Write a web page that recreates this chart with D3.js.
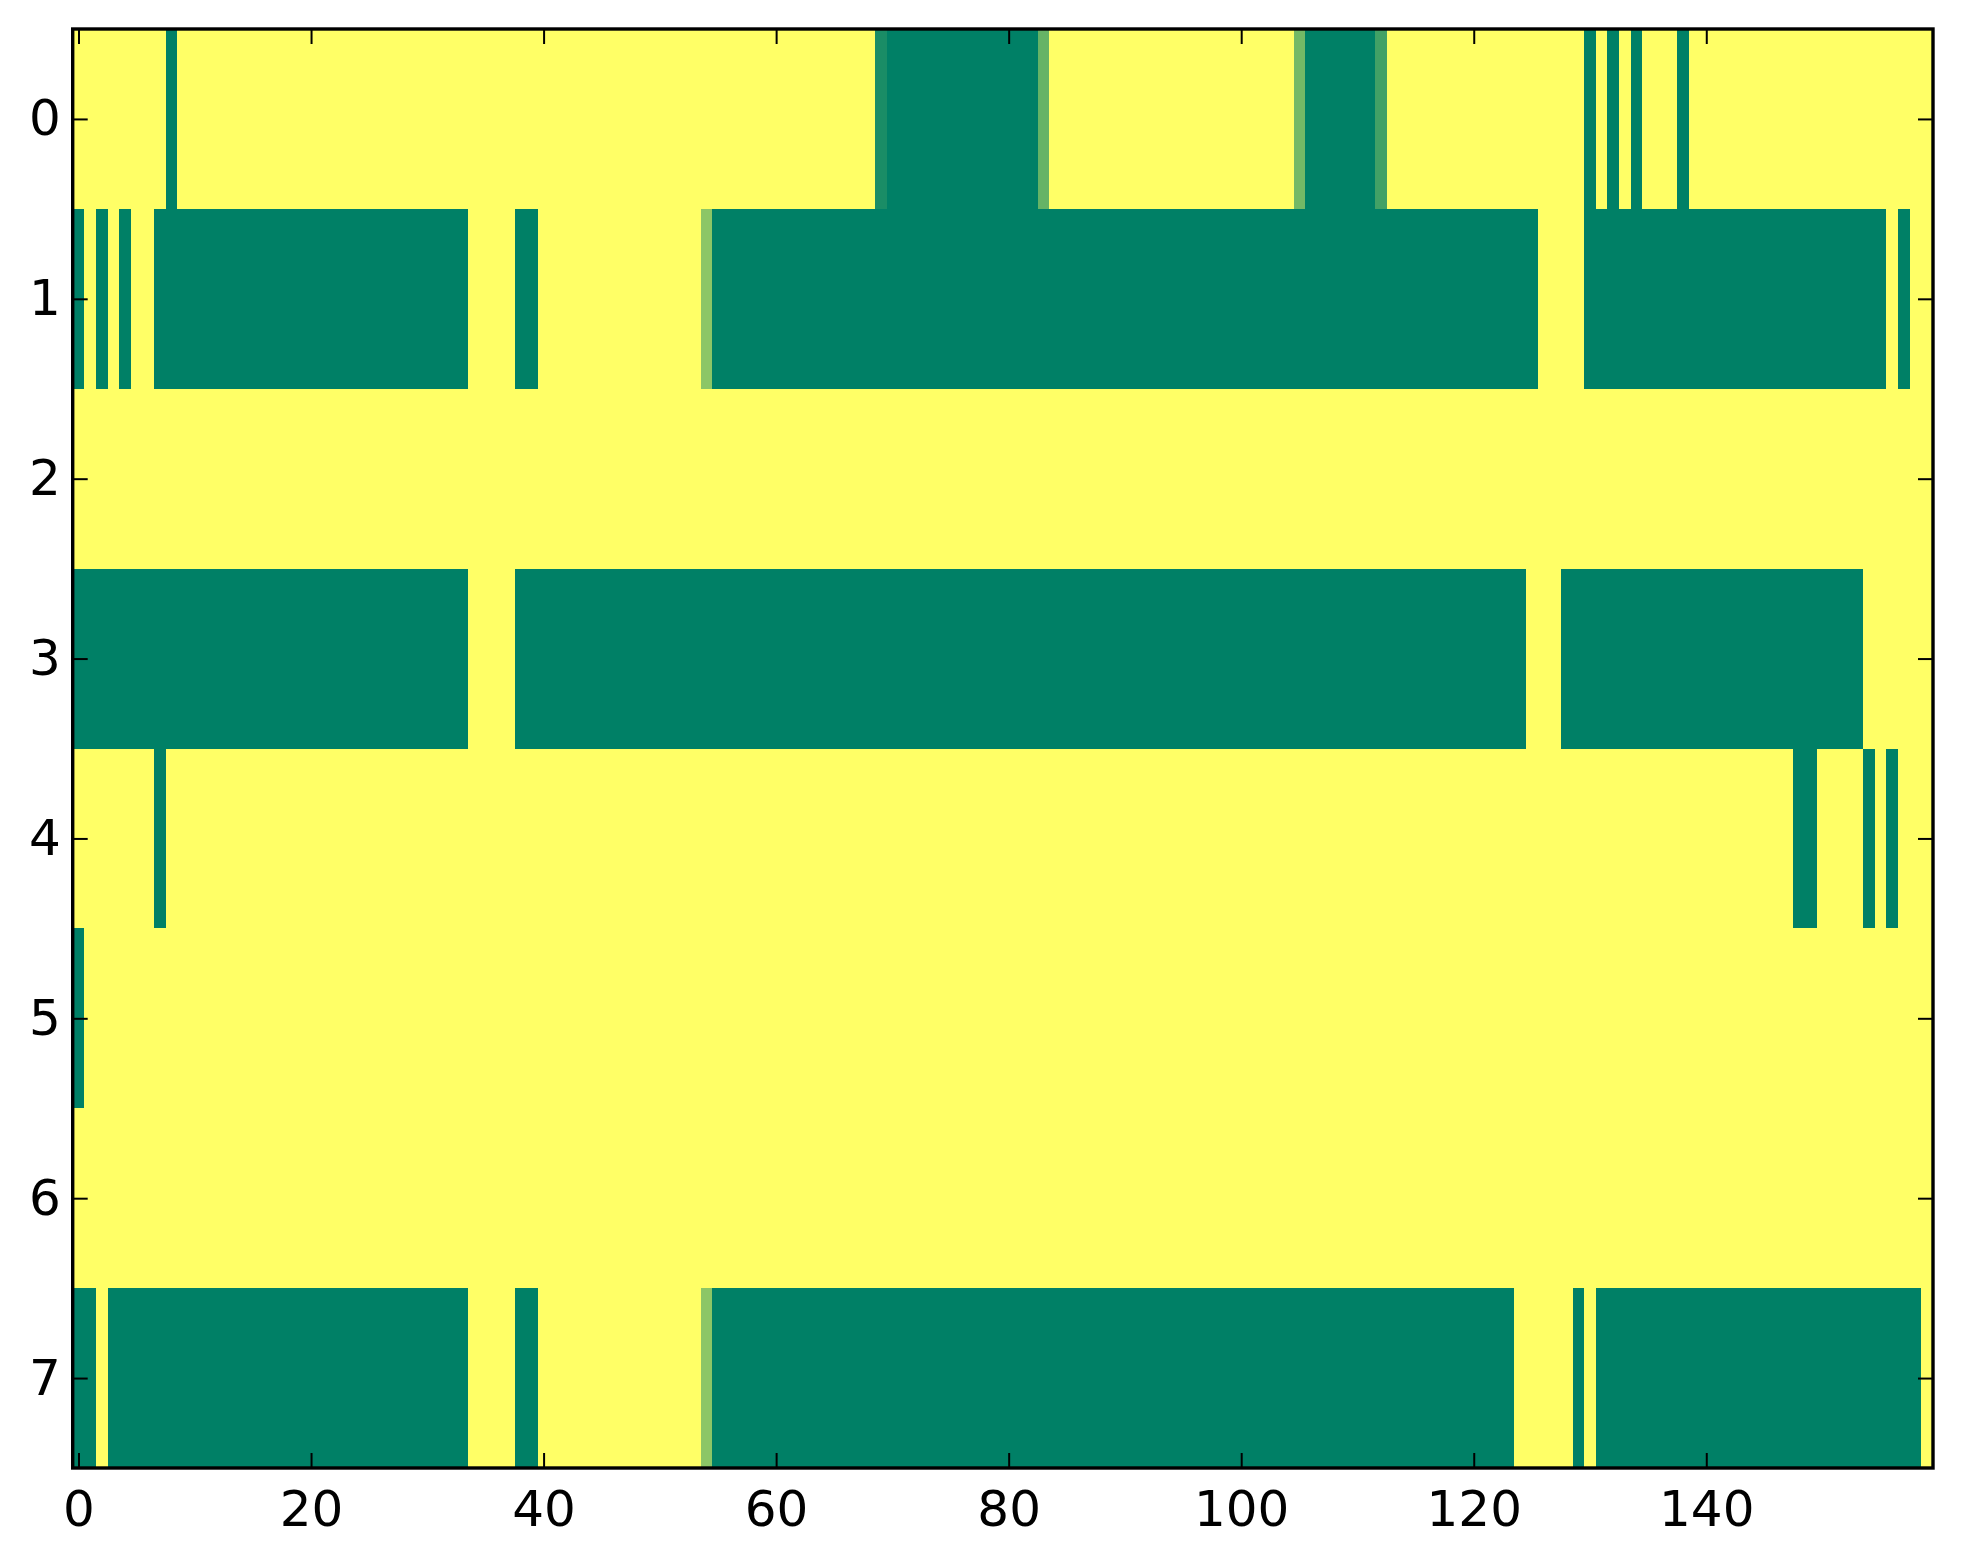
<!DOCTYPE html>
<html>
<head>
<meta charset="utf-8">
<script src="https://cdn.jsdelivr.net/npm/d3@7/dist/d3.min.js"></script>
<style>
  html, body { margin: 0; padding: 0; background: #ffffff; }
  svg { display: block; }
  text { font-family: "DejaVu Sans", sans-serif; }
</style>
</head>
<body>
<script>
// ---- data (1 = yellow, 0 = dark green) ----
const rowLabels = [0, 1, 2, 3, 4, 5, 6, 7];
const xTickValues = [0, 20, 40, 60, 80, 100, 120, 140];

const row0 = [
  1,1,1,1,1,1,1,1,0,1,1,1,1,1,1,1,1,1,1,1,
  1,1,1,1,1,1,1,1,1,1,1,1,1,1,1,1,1,1,1,1,
  1,1,1,1,1,1,1,1,1,1,1,1,1,1,1,1,1,1,1,1,
  1,1,1,1,1,1,1,1,1,0.1,0,0,0,0,0,0,0,0,0,0,
  0,0,0,0.4,1,1,1,1,1,1,1,1,1,1,1,1,1,1,1,1,
  1,1,1,1,1,0.45,0,0,0,0,0,0,0.26,1,1,1,1,1,1,1,
  1,1,1,1,1,1,1,1,1,1,0,1,0,1,0,1,1,1,0,1,
  1,1,1,1,1,1,1,1,1,1,1,1,1,1,1,1,1,1,1,1
];
const row1 = [
  0,1,0,1,0,1,1,0,0,0,0,0,0,0,0,0,0,0,0,0,
  0,0,0,0,0,0,0,0,0,0,0,0,0,0,1,1,1,1,0,0,
  1,1,1,1,1,1,1,1,1,1,1,1,1,1,0.55,0,0,0,0,0,
  0,0,0,0,0,0,0,0,0,0,0,0,0,0,0,0,0,0,0,0,
  0,0,0,0,0,0,0,0,0,0,0,0,0,0,0,0,0,0,0,0,
  0,0,0,0,0,0,0,0,0,0,0,0,0,0,0,0,0,0,0,0,
  0,0,0,0,0,0,1,1,1,1,0,0,0,0,0,0,0,0,0,0,
  0,0,0,0,0,0,0,0,0,0,0,0,0,0,0,0,1,0,1,1
];
const row2 = [
  1,1,1,1,1,1,1,1,1,1,1,1,1,1,1,1,1,1,1,1,
  1,1,1,1,1,1,1,1,1,1,1,1,1,1,1,1,1,1,1,1,
  1,1,1,1,1,1,1,1,1,1,1,1,1,1,1,1,1,1,1,1,
  1,1,1,1,1,1,1,1,1,1,1,1,1,1,1,1,1,1,1,1,
  1,1,1,1,1,1,1,1,1,1,1,1,1,1,1,1,1,1,1,1,
  1,1,1,1,1,1,1,1,1,1,1,1,1,1,1,1,1,1,1,1,
  1,1,1,1,1,1,1,1,1,1,1,1,1,1,1,1,1,1,1,1,
  1,1,1,1,1,1,1,1,1,1,1,1,1,1,1,1,1,1,1,1
];
const row3 = [
  0,0,0,0,0,0,0,0,0,0,0,0,0,0,0,0,0,0,0,0,
  0,0,0,0,0,0,0,0,0,0,0,0,0,0,1,1,1,1,0,0,
  0,0,0,0,0,0,0,0,0,0,0,0,0,0,0,0,0,0,0,0,
  0,0,0,0,0,0,0,0,0,0,0,0,0,0,0,0,0,0,0,0,
  0,0,0,0,0,0,0,0,0,0,0,0,0,0,0,0,0,0,0,0,
  0,0,0,0,0,0,0,0,0,0,0,0,0,0,0,0,0,0,0,0,
  0,0,0,0,0,1,1,1,0,0,0,0,0,0,0,0,0,0,0,0,
  0,0,0,0,0,0,0,0,0,0,0,0,0,0,1,1,1,1,1,1
];
const row4 = [
  1,1,1,1,1,1,1,0,1,1,1,1,1,1,1,1,1,1,1,1,
  1,1,1,1,1,1,1,1,1,1,1,1,1,1,1,1,1,1,1,1,
  1,1,1,1,1,1,1,1,1,1,1,1,1,1,1,1,1,1,1,1,
  1,1,1,1,1,1,1,1,1,1,1,1,1,1,1,1,1,1,1,1,
  1,1,1,1,1,1,1,1,1,1,1,1,1,1,1,1,1,1,1,1,
  1,1,1,1,1,1,1,1,1,1,1,1,1,1,1,1,1,1,1,1,
  1,1,1,1,1,1,1,1,1,1,1,1,1,1,1,1,1,1,1,1,
  1,1,1,1,1,1,1,1,0,0,1,1,1,1,0,1,0,1,1,1
];
const row5 = [
  0,1,1,1,1,1,1,1,1,1,1,1,1,1,1,1,1,1,1,1,
  1,1,1,1,1,1,1,1,1,1,1,1,1,1,1,1,1,1,1,1,
  1,1,1,1,1,1,1,1,1,1,1,1,1,1,1,1,1,1,1,1,
  1,1,1,1,1,1,1,1,1,1,1,1,1,1,1,1,1,1,1,1,
  1,1,1,1,1,1,1,1,1,1,1,1,1,1,1,1,1,1,1,1,
  1,1,1,1,1,1,1,1,1,1,1,1,1,1,1,1,1,1,1,1,
  1,1,1,1,1,1,1,1,1,1,1,1,1,1,1,1,1,1,1,1,
  1,1,1,1,1,1,1,1,1,1,1,1,1,1,1,1,1,1,1,1
];
const row6 = [
  1,1,1,1,1,1,1,1,1,1,1,1,1,1,1,1,1,1,1,1,
  1,1,1,1,1,1,1,1,1,1,1,1,1,1,1,1,1,1,1,1,
  1,1,1,1,1,1,1,1,1,1,1,1,1,1,1,1,1,1,1,1,
  1,1,1,1,1,1,1,1,1,1,1,1,1,1,1,1,1,1,1,1,
  1,1,1,1,1,1,1,1,1,1,1,1,1,1,1,1,1,1,1,1,
  1,1,1,1,1,1,1,1,1,1,1,1,1,1,1,1,1,1,1,1,
  1,1,1,1,1,1,1,1,1,1,1,1,1,1,1,1,1,1,1,1,
  1,1,1,1,1,1,1,1,1,1,1,1,1,1,1,1,1,1,1,1
];
const row7 = [
  0,0,1,0,0,0,0,0,0,0,0,0,0,0,0,0,0,0,0,0,
  0,0,0,0,0,0,0,0,0,0,0,0,0,0,1,1,1,1,0,0,
  1,1,1,1,1,1,1,1,1,1,1,1,1,1,0.55,0,0,0,0,0,
  0,0,0,0,0,0,0,0,0,0,0,0,0,0,0,0,0,0,0,0,
  0,0,0,0,0,0,0,0,0,0,0,0,0,0,0,0,0,0,0,0,
  0,0,0,0,0,0,0,0,0,0,0,0,0,0,0,0,0,0,0,0,
  0,0,0,0,1,1,1,1,1,0,1,0,0,0,0,0,0,0,0,0,
  0,0,0,0,0,0,0,0,0,0,0,0,0,0,0,0,0,0,0,1
];
const rows = [row0, row1, row2, row3, row4, row5, row6, row7];

// ---- layout ----
const W = 1963, H = 1564;
const plotLeft = 72.7, plotRight = 1933, plotTop = 29, plotBottom = 1468;
const nCols = row0.length;

const svg = d3.select("body").append("svg")
  .attr("width", W).attr("height", H)
  .attr("viewBox", `0 0 ${W} ${H}`);

svg.append("rect").attr("width", W).attr("height", H).attr("fill", "#ffffff");

const x = d3.scaleLinear().domain([-0.5, nCols - 0.5]).range([plotLeft, plotRight]);
const y = d3.scaleLinear().domain([-0.5, rows.length - 0.5]).range([plotTop, plotBottom]);
// matplotlib "summer" colormap
const color = d3.scaleLinear().domain([0, 1]).range(["#008066", "#ffff66"]);

const cells = [];
rows.forEach((r, ri) => r.forEach((v, ci) => cells.push({ r: ri, c: ci, v })));

svg.append("g").attr("shape-rendering", "crispEdges")
  .selectAll("rect").data(cells).join("rect")
  .attr("x", d => x(d.c - 0.5))
  .attr("y", d => y(d.r - 0.5))
  .attr("width", d => x(d.c + 0.5) - x(d.c - 0.5) + 0.6)
  .attr("height", d => y(d.r + 0.5) - y(d.r - 0.5) + 0.6)
  .attr("fill", d => color(d.v));

// ---- axes (inward ticks on all four sides) ----
const tickLen = 15, fs = 50;

const gB = svg.append("g").attr("transform", `translate(0,${plotBottom})`)
  .call(d3.axisBottom(x).tickValues(xTickValues).tickSizeInner(-tickLen).tickSizeOuter(0).tickFormat(d3.format("d")));
gB.select(".domain").remove();
gB.selectAll(".tick line").attr("stroke", "#000").attr("stroke-width", 2);
gB.selectAll(".tick text").attr("y", 58).attr("dy", 0).attr("font-size", fs)
  .attr("fill", "#000").attr("font-family", "DejaVu Sans, sans-serif");

const gT = svg.append("g").attr("transform", `translate(0,${plotTop})`)
  .call(d3.axisTop(x).tickValues(xTickValues).tickSizeInner(-tickLen).tickSizeOuter(0).tickFormat(""));
gT.select(".domain").remove();
gT.selectAll(".tick line").attr("stroke", "#000").attr("stroke-width", 2);

const gL = svg.append("g").attr("transform", `translate(${plotLeft},0)`)
  .call(d3.axisLeft(y).tickValues(rowLabels).tickSizeInner(-tickLen).tickSizeOuter(0).tickFormat(d3.format("d")));
gL.select(".domain").remove();
gL.selectAll(".tick line").attr("stroke", "#000").attr("stroke-width", 2);
gL.selectAll(".tick text").attr("x", -12).attr("dy", "0.32em").attr("font-size", fs)
  .attr("fill", "#000").attr("font-family", "DejaVu Sans, sans-serif");

const gR = svg.append("g").attr("transform", `translate(${plotRight},0)`)
  .call(d3.axisRight(y).tickValues(rowLabels).tickSizeInner(-tickLen).tickSizeOuter(0).tickFormat(""));
gR.select(".domain").remove();
gR.selectAll(".tick line").attr("stroke", "#000").attr("stroke-width", 2);

// frame
svg.append("rect")
  .attr("x", plotLeft).attr("y", plotTop)
  .attr("width", plotRight - plotLeft).attr("height", plotBottom - plotTop)
  .attr("fill", "none").attr("stroke", "#000").attr("stroke-width", 3.4);
</script>
</body>
</html>
